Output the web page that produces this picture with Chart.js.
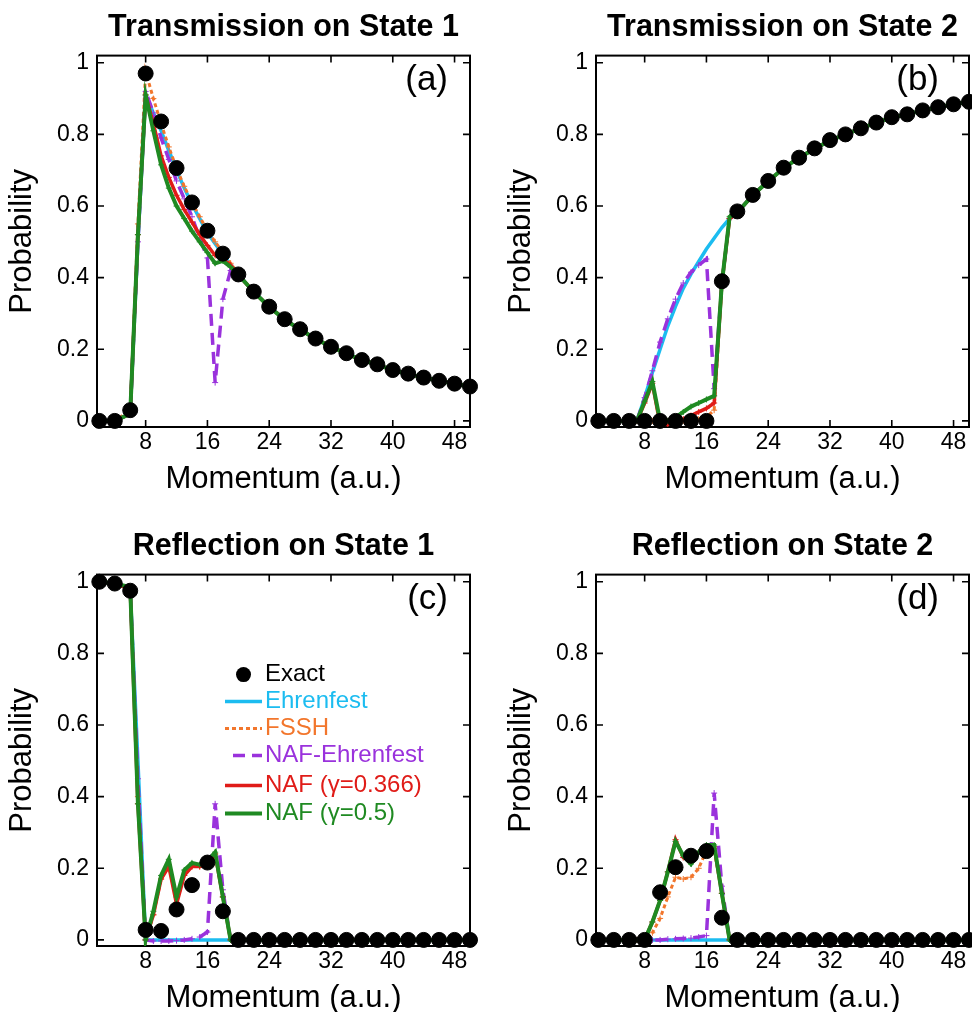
<!DOCTYPE html>
<html>
<head>
<meta charset="utf-8">
<title>Transmission and reflection probabilities</title>
<script src="https://cdn.jsdelivr.net/npm/chart.js@4.4.1/dist/chart.umd.min.js"></script>
<style>
  html, body { margin: 0; padding: 0; background: #fff; overflow: hidden; width: 972px; height: 1012px; }
  canvas { position: absolute; }
</style>
</head>
<body>
<canvas id="panelA" width="486" height="506" style="left:0;top:0"></canvas>
<canvas id="panelB" width="486" height="506" style="left:499px;top:0"></canvas>
<canvas id="panelC" width="486" height="506" style="left:0;top:519px"></canvas>
<canvas id="panelD" width="486" height="506" style="left:499px;top:519px"></canvas>
<script>
"use strict";

// momentum grids (a.u.)
var momentumExact = [2, 4, 6, 8, 10, 12, 14, 16, 18, 20, 22, 24, 26, 28, 30, 32, 34, 36, 38, 40, 42, 44, 46, 48, 50];
var momentumSim = [2, 4, 6, 7, 8, 9, 10, 11, 12, 13, 14, 15, 16, 17, 18, 19, 20, 22, 24, 26, 28, 30, 32, 34, 36, 38, 40, 42, 44, 46, 48, 50];

var xTicks = [8, 16, 24, 32, 40, 48];
var yTicks = [0, 0.2, 0.4, 0.6, 0.8, 1];

var methodNames = ["Exact", "Ehrenfest", "FSSH", "NAF-Ehrenfest", "NAF (\u03b3=0.366)", "NAF (\u03b3=0.5)"];
var methodColors = ["#000000", "#1cbcf0", "#f2762c", "#9a32dc", "#e01c18", "#1f8a22"];

// (a) transmission on state 1
var exactT1 = [0, 0, 0.03, 0.97, 0.836, 0.706, 0.61, 0.531, 0.467, 0.409, 0.361, 0.319, 0.284, 0.256, 0.23, 0.207, 0.189, 0.17, 0.158, 0.142, 0.132, 0.121, 0.112, 0.104, 0.096];
var ehrT1 = [0, 0, 0.02, 0.5, 0.91, 0.86, 0.81, 0.755, 0.7, 0.65, 0.605, 0.565, 0.525, 0.495, 0.465, 0.435, 0.409, 0.361, 0.319, 0.284, 0.256, 0.23, 0.207, 0.189, 0.17, 0.158, 0.142, 0.132, 0.121, 0.112, 0.104, 0.096];
var fsshT1 = [0, 0, 0.03, 0.55, 0.975, 0.9, 0.83, 0.765, 0.705, 0.655, 0.61, 0.57, 0.53, 0.5, 0.47, 0.44, 0.41, 0.362, 0.32, 0.285, 0.256, 0.231, 0.208, 0.189, 0.171, 0.158, 0.143, 0.132, 0.122, 0.112, 0.104, 0.097];
var nafeT1 = [0, 0, 0.02, 0.5, 0.92, 0.86, 0.79, 0.73, 0.67, 0.62, 0.57, 0.51, 0.455, 0.107, 0.34, 0.42, 0.408, 0.36, 0.318, 0.284, 0.255, 0.23, 0.207, 0.188, 0.17, 0.157, 0.142, 0.131, 0.121, 0.112, 0.104, 0.096];
var naf1T1 = [0, 0, 0.02, 0.52, 0.91, 0.83, 0.74, 0.68, 0.63, 0.59, 0.555, 0.52, 0.49, 0.462, 0.452, 0.435, 0.408, 0.36, 0.318, 0.283, 0.255, 0.229, 0.207, 0.188, 0.17, 0.157, 0.142, 0.131, 0.121, 0.112, 0.104, 0.096];
var naf2T1 = [0, 0, 0.02, 0.52, 0.91, 0.81, 0.715, 0.65, 0.6, 0.565, 0.53, 0.5, 0.47, 0.44, 0.447, 0.43, 0.408, 0.36, 0.318, 0.283, 0.255, 0.229, 0.207, 0.188, 0.17, 0.157, 0.142, 0.131, 0.121, 0.112, 0.104, 0.096];

// (b) transmission on state 2
var exactT2 = [0, 0, 0, 0, 0, 0, 0, 0, 0.39, 0.585, 0.631, 0.67, 0.707, 0.735, 0.761, 0.784, 0.8, 0.817, 0.833, 0.848, 0.856, 0.867, 0.876, 0.884, 0.891];
var ehrT2 = [0, 0, 0, 0, 0.065, 0.135, 0.2, 0.265, 0.32, 0.37, 0.41, 0.445, 0.48, 0.51, 0.54, 0.565, 0.582, 0.63, 0.669, 0.706, 0.735, 0.76, 0.783, 0.8, 0.817, 0.833, 0.847, 0.856, 0.867, 0.876, 0.884, 0.891];
var fsshT2 = [0, 0, 0, 0, 0, 0, 0, 0, 0, 0, 0.002, 0.005, 0.01, 0.03, 0.385, 0.565, 0.582, 0.63, 0.669, 0.706, 0.735, 0.76, 0.783, 0.8, 0.817, 0.833, 0.847, 0.856, 0.867, 0.876, 0.884, 0.891];
var nafeT2 = [0, 0, 0, 0, 0.065, 0.14, 0.22, 0.285, 0.34, 0.385, 0.415, 0.435, 0.452, 0.09, 0.385, 0.565, 0.582, 0.63, 0.669, 0.706, 0.735, 0.76, 0.783, 0.8, 0.817, 0.833, 0.847, 0.856, 0.867, 0.876, 0.884, 0.891];
var naf1T2 = [0, 0, 0, 0, 0.05, 0.105, -0.01, -0.01, 0, 0.005, 0.015, 0.025, 0.035, 0.05, 0.385, 0.565, 0.582, 0.63, 0.669, 0.706, 0.735, 0.76, 0.783, 0.8, 0.817, 0.833, 0.847, 0.856, 0.867, 0.876, 0.884, 0.891];
var naf2T2 = [0, 0, 0, 0, 0.055, 0.11, 0, 0, 0.01, 0.025, 0.04, 0.05, 0.06, 0.07, 0.385, 0.57, 0.582, 0.63, 0.669, 0.706, 0.735, 0.76, 0.783, 0.8, 0.817, 0.833, 0.847, 0.856, 0.867, 0.876, 0.884, 0.891];

// (c) reflection on state 1
var exactR1 = [1, 0.995, 0.975, 0.028, 0.025, 0.085, 0.153, 0.216, 0.08, 0, 0, 0, 0, 0, 0, 0, 0, 0, 0, 0, 0, 0, 0, 0, 0];
var ehrR1 = [1, 0.995, 0.98, 0.5, 0, 0, 0, 0, 0, 0, 0, 0, 0, 0, 0, 0, 0, 0, 0, 0, 0, 0, 0, 0, 0, 0, 0, 0, 0, 0, 0, 0];
var fsshR1 = [1, 0.995, 0.98, 0.4, 0, 0.07, 0.17, 0.21, 0.105, 0.18, 0.205, 0.205, 0.215, 0.24, 0.12, 0, 0, 0, 0, 0, 0, 0, 0, 0, 0, 0, 0, 0, 0, 0, 0, 0];
var nafeR1 = [1, 0.995, 0.98, 0.45, 0, -0.003, -0.003, -0.003, -0.002, 0, 0.003, 0.008, 0.022, 0.38, 0.14, 0, 0, 0, 0, 0, 0, 0, 0, 0, 0, 0, 0, 0, 0, 0, 0, 0];
var naf1R1 = [1, 0.995, 0.98, 0.38, 0, 0.07, 0.17, 0.205, 0.1, 0.18, 0.205, 0.205, 0.21, 0.24, 0.12, 0, 0, 0, 0, 0, 0, 0, 0, 0, 0, 0, 0, 0, 0, 0, 0, 0];
var naf2R1 = [1, 0.995, 0.985, 0.38, 0, 0.08, 0.18, 0.225, 0.12, 0.195, 0.215, 0.21, 0.22, 0.245, 0.12, 0, 0, 0, 0, 0, 0, 0, 0, 0, 0, 0, 0, 0, 0, 0, 0, 0];

// (d) reflection on state 2
var exactR2 = [0, 0, 0, 0, 0.133, 0.203, 0.235, 0.248, 0.062, 0, 0, 0, 0, 0, 0, 0, 0, 0, 0, 0, 0, 0, 0, 0, 0];
var ehrR2 = [0, 0, 0, 0, 0, 0, 0, 0, 0, 0, 0, 0, 0, 0, 0, 0, 0, 0, 0, 0, 0, 0, 0, 0, 0, 0, 0, 0, 0, 0, 0, 0];
var fsshR2 = [0, 0, 0, 0, 0, 0.02, 0.06, 0.12, 0.175, 0.17, 0.175, 0.2, 0.25, 0.255, 0.13, 0, 0, 0, 0, 0, 0, 0, 0, 0, 0, 0, 0, 0, 0, 0, 0, 0];
var nafeR2 = [0, 0, 0, 0, 0, 0, 0, 0.002, 0.003, 0.004, 0.005, 0.008, 0.012, 0.41, 0.15, 0, 0, 0, 0, 0, 0, 0, 0, 0, 0, 0, 0, 0, 0, 0, 0, 0];
var naf1R2 = [0, 0, 0, 0, 0, 0.05, 0.11, 0.19, 0.28, 0.23, 0.22, 0.245, 0.255, 0.26, 0.13, 0, 0, 0, 0, 0, 0, 0, 0, 0, 0, 0, 0, 0, 0, 0, 0, 0];
var naf2R2 = [0, 0, 0, 0, 0, 0.05, 0.11, 0.19, 0.275, 0.235, 0.212, 0.245, 0.265, 0.265, 0.13, 0, 0, 0, 0, 0, 0, 0, 0, 0, 0, 0, 0, 0, 0, 0, 0, 0];

var FONT = '"Liberation Sans", Arial, Helvetica, sans-serif';
Chart.defaults.font.family = FONT;
Chart.defaults.color = "#000";

// line looks, in legend order
var looks = [
    {showLine: false, pointRadius: 7.5, pointBorderWidth: 1, order: 0, clip: false},
    {borderWidth: 3.5, pointRadius: 0, order: 5},
    {borderWidth: 3, borderDash: [4, 3], pointStyle: "cross", pointRadius: 3, pointBorderWidth: 1, order: 4},
    {borderWidth: 3.5, borderDash: [12, 7], pointStyle: "cross", pointRadius: 3, pointBorderWidth: 1, order: 3},
    {borderWidth: 3.5, pointStyle: "cross", pointRadius: 3, pointBorderWidth: 1, order: 2},
    {borderWidth: 4, pointStyle: "cross", pointRadius: 3, pointBorderWidth: 1, order: 1}
];

function pairs(ks, vs) {
    return ks.map(function (k, i) { return {x: k, y: vs[i]}; });
}

// box with inward ticks on all four sides, plus the panel tag
var framePlugin = {
    id: "frame",
    beforeDatasetsDraw: function (chart, args, opts) {
        var ctx = chart.ctx, a = chart.chartArea;
        var sx = chart.scales.x, sy = chart.scales.y;
        ctx.save();
        ctx.strokeStyle = "#000";
        ctx.lineWidth = 2;
        ctx.strokeRect(a.left, a.top, a.right - a.left, a.bottom - a.top);
        ctx.lineWidth = 1.6;
        ctx.beginPath();
        xTicks.forEach(function (v) {
            var p = sx.getPixelForValue(v);
            ctx.moveTo(p, a.bottom); ctx.lineTo(p, a.bottom - 7);
            ctx.moveTo(p, a.top); ctx.lineTo(p, a.top + 7);
        });
        yTicks.forEach(function (v) {
            var p = sy.getPixelForValue(v);
            ctx.moveTo(a.left, p); ctx.lineTo(a.left + 7, p);
            ctx.moveTo(a.right, p); ctx.lineTo(a.right - 7, p);
        });
        ctx.stroke();
        ctx.fillStyle = "#000";
        ctx.font = "35px " + FONT;
        ctx.textAlign = "right";
        ctx.textBaseline = "alphabetic";
        ctx.fillText(opts.tag, a.right - opts.tagRight, a.top + 34);
        ctx.restore();
    }
};

// legend drawn inside panel (c), text coloured like its line
var keyPlugin = {
    id: "key",
    afterDatasetsDraw: function (chart, args, opts) {
        if (!opts.show) return;
        var ctx = chart.ctx, a = chart.chartArea;
        var rows = [100, 127, 154, 181, 211, 239];
        var x0 = a.left + 128, x1 = a.left + 165, tx = a.left + 168;
        ctx.save();
        ctx.font = "24px " + FONT;
        ctx.textAlign = "left";
        ctx.textBaseline = "middle";
        chart.data.datasets.forEach(function (ds, i) {
            var y = a.top + rows[i];
            if (i === 0) {
                ctx.beginPath();
                ctx.arc((x0 + x1) / 2, y, 7.5, 0, 2 * Math.PI);
                ctx.fillStyle = ds.borderColor;
                ctx.fill();
            } else {
                ctx.beginPath();
                ctx.setLineDash(ds.borderDash || []);
                ctx.lineWidth = ds.borderWidth;
                ctx.strokeStyle = ds.borderColor;
                ctx.moveTo(i === 3 ? x0 + 8 : x0, y);
                ctx.lineTo(x1, y);
                ctx.stroke();
                ctx.setLineDash([]);
            }
            ctx.fillStyle = ds.borderColor;
            ctx.fillText(ds.label, tx, y);
        });
        ctx.restore();
    }
};

function makePanel(id, title, tag, tagRight, exact, sims, withKey) {
    var datasets = methodNames.map(function (name, i) {
        var ds = {
            label: name,
            data: i === 0 ? pairs(momentumExact, exact) : pairs(momentumSim, sims[i - 1]),
            borderColor: methodColors[i],
            backgroundColor: methodColors[i],
            pointBackgroundColor: methodColors[i],
            pointBorderColor: methodColors[i],
            tension: 0,
            fill: false
        };
        return Object.assign(ds, looks[i]);
    });
    new Chart(document.getElementById(id).getContext("2d"), {
        type: "line",
        data: {datasets: datasets},
        plugins: [framePlugin, keyPlugin],
        options: {
            responsive: false,
            animation: false,
            events: [],
            layout: {padding: {left: 0, right: 16, top: 0, bottom: 0}},
            plugins: {
                legend: {display: false},
                tooltip: {enabled: false},
                title: {
                    display: true, text: title, fullSize: false, color: "#000",
                    font: {size: 30.5, weight: "bold"}, padding: {top: 9, bottom: 10}
                },
                frame: {tag: tag, tagRight: tagRight},
                key: {show: withKey}
            },
            scales: {
                x: {
                    type: "linear", min: 1.7, max: 50,
                    afterBuildTicks: function (s) { s.ticks = xTicks.map(function (v) { return {value: v}; }); },
                    afterFit: function (s) { s.height = 79; },
                    grid: {display: false, drawTicks: false, tickLength: 0},
                    border: {display: false},
                    ticks: {font: {size: 23}, color: "#000", padding: 2, maxRotation: 0, autoSkip: false},
                    title: {display: true, text: "Momentum (a.u.)", color: "#000", font: {size: 31}, padding: {top: 0, bottom: 8}}
                },
                y: {
                    type: "linear", min: -0.017, max: 1.02,
                    afterBuildTicks: function (s) { s.ticks = yTicks.map(function (v) { return {value: v}; }); },
                    afterFit: function (s) { s.width = 97; },
                    grid: {display: false, drawTicks: false, tickLength: 0},
                    border: {display: false},
                    ticks: {
                        font: {size: 23}, color: "#000", padding: 8,
                        callback: function (v) { return String(Math.round(v * 10) / 10); }
                    },
                    title: {display: true, text: "Probability", color: "#000", font: {size: 31}, padding: {top: 4, bottom: 0}}
                }
            }
        }
    });
}

makePanel("panelA", "Transmission on State 1", "(a)", 22, exactT1, [ehrT1, fsshT1, nafeT1, naf1T1, naf2T1], false);
makePanel("panelB", "Transmission on State 2", "(b)", 30, exactT2, [ehrT2, fsshT2, nafeT2, naf1T2, naf2T2], false);
makePanel("panelC", "Reflection on State 1", "(c)", 22, exactR1, [ehrR1, fsshR1, nafeR1, naf1R1, naf2R1], true);
makePanel("panelD", "Reflection on State 2", "(d)", 30, exactR2, [ehrR2, fsshR2, nafeR2, naf1R2, naf2R2], false);
</script>
</body>
</html>
